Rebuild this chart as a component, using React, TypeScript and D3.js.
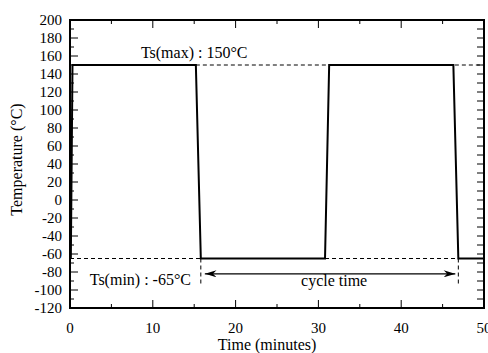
import React from "react";
import * as d3 from "d3";

// profile
const times = [0.1, 0.3, 15.2, 15.8, 30.8, 31.3, 46.3, 46.9, 50];
const temps = [-65, 150, 150, -65, -65, 150, 150, -65, -65];

const tsMax = 150;
const tsMin = -65;
const cycleStart = 15.8;
const cycleEnd = 46.9;

const xTicks = [0, 10, 20, 30, 40, 50];
const yTicks = d3.range(-120, 201, 20);

const W = 488;
const H = 353;
const font = "'Liberation Serif', 'Times New Roman', serif";

const App = () => {
  const x = d3.scaleLinear().domain([0, 50]).range([70, 484]);
  const y = d3.scaleLinear().domain([-120, 200]).range([308, 20]);

  const line = d3
    .line<number>()
    .x((d, i) => x(times[i]))
    .y((d) => y(d));

  const minorX = d3.range(0, 51, 5);
  const minorY = d3.range(-120, 201, 10);

  return (
    <svg width={W} height={H} style={{ position: "absolute", left: 0, top: 0 }}>
      <defs>
        <marker id="ah" viewBox="0 0 10 6" refX="10" refY="3" markerWidth="12" markerHeight="7" orient="auto-start-reverse" markerUnits="userSpaceOnUse">
          <path d="M0,0 L10,3 L0,6 L3,3 Z" fill="#000" />
        </marker>
      </defs>
      <rect width={W} height={H} fill="#fff" />

      {/* dashed guides */}
      <g stroke="#000" strokeWidth={1} strokeDasharray="4,3" fill="none">
        <line x1={x(15.2)} x2={x(50)} y1={y(tsMax)} y2={y(tsMax)} />
        <line x1={x(0)} x2={x(cycleStart)} y1={y(tsMin)} y2={y(tsMin)} />
        <line x1={x(30.8)} x2={x(cycleEnd)} y1={y(tsMin)} y2={y(tsMin)} />
        <line x1={x(cycleStart)} x2={x(cycleStart)} y1={y(tsMin)} y2={y(-95)} />
        <line x1={x(cycleEnd)} x2={x(cycleEnd)} y1={y(tsMin)} y2={y(-95)} />
      </g>

      {/* cycle time arrow */}
      <line
        x1={x(cycleStart) + 4}
        x2={x(cycleEnd) - 3}
        y1={y(-82)}
        y2={y(-82)}
        stroke="#000"
        strokeWidth={1.2}
        markerStart="url(#ah)"
        markerEnd="url(#ah)"
      />

      <path d={line(temps) || ""} fill="none" stroke="#000" strokeWidth={2} />

      {/* ticks */}
      <g stroke="#000" strokeWidth={1}>
        {minorX.map((t) => {
          const len = t % 10 === 0 ? 8 : 4;
          return (
            <g key={"x" + t}>
              <line x1={x(t)} x2={x(t)} y1={y(-120)} y2={y(-120) - len} />
              <line x1={x(t)} x2={x(t)} y1={y(200)} y2={y(200) + len} />
            </g>
          );
        })}
        {minorY.map((t) => {
          const len = t % 20 === 0 ? 8 : 4;
          return (
            <g key={"y" + t}>
              <line x1={x(0)} x2={x(0) + len} y1={y(t)} y2={y(t)} />
              <line x1={x(50)} x2={x(50) - 7} y1={y(t)} y2={y(t)} />
            </g>
          );
        })}
      </g>

      <rect x={x(0)} y={y(200)} width={x(50) - x(0)} height={y(-120) - y(200)} fill="none" stroke="#000" strokeWidth={2} />

      {/* labels */}
      <g fontFamily={font} fontSize={15} fill="#000">
        {yTicks.map((t) => (
          <text key={t} x={62} y={y(t)} dy="0.35em" textAnchor="end">
            {t}
          </text>
        ))}
        {xTicks.map((t) => (
          <text key={t} x={x(t)} y={333} textAnchor="middle">
            {t}
          </text>
        ))}
        <text x={x(23.8)} y={350} textAnchor="middle" fontSize={16}>Time (minutes)</text>
        <text transform={`translate(22,${y(45)}) rotate(-90)`} textAnchor="middle" fontSize={16}>
          Temperature (°C)
        </text>
        <text x={x(15)} y={y(158)} textAnchor="middle" fontSize={16}>Ts(max) : 150°C</text>
        <text x={x(8.5)} y={y(-94)} textAnchor="middle" fontSize={16}>Ts(min) : -65°C</text>
        <text x={x(31.9)} y={y(-95)} textAnchor="middle" fontSize={16}>cycle time</text>
      </g>
    </svg>
  );
};

export default App;
